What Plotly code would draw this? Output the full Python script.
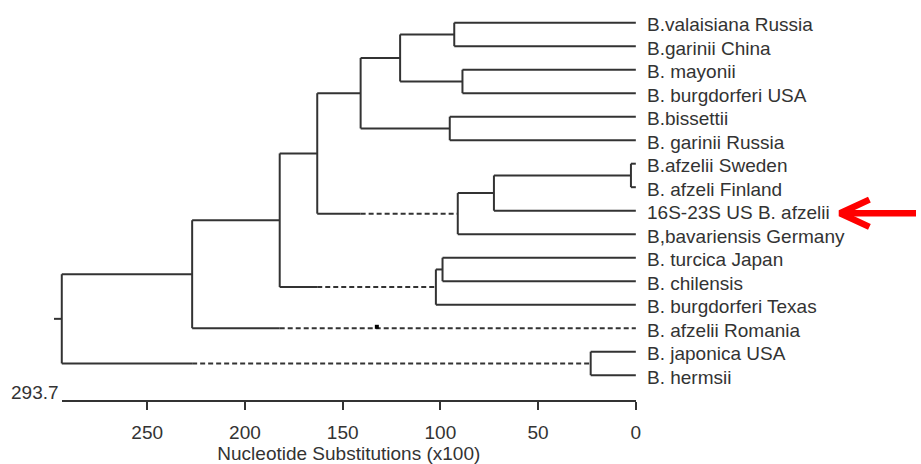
import plotly.graph_objects as go

# ---------------- data ----------------
LEAVES = [
    "B.valaisiana Russia", "B.garinii China", "B. mayonii", "B. burgdorferi USA",
    "B.bissettii", "B. garinii Russia", "B.afzelii Sweden", "B. afzeli Finland",
    "16S-23S US B. afzelii", "B,bavariensis Germany", "B. turcica Japan",
    "B. chilensis", "B. burgdorferi Texas", "B. afzelii Romania",
    "B. japonica USA", "B. hermsii",
]
NODE_NAMES = ["n_a", "n_b", "n_c", "n_d", "n_e", "n_f", "n_g", "n_h",
              "n_i", "n_j", "n_k", "n_l", "n_m", "n_n", "root"]
NODE_CHILDREN = [
    ("B.valaisiana Russia", "B.garinii China"),
    ("B. mayonii", "B. burgdorferi USA"),
    ("n_a", "n_b"),
    ("B.bissettii", "B. garinii Russia"),
    ("n_c", "n_d"),
    ("B.afzelii Sweden", "B. afzeli Finland"),
    ("n_f", "16S-23S US B. afzelii"),
    ("n_g", "B,bavariensis Germany"),
    ("n_e", "n_h"),
    ("B. turcica Japan", "B. chilensis"),
    ("n_j", "B. burgdorferi Texas"),
    ("n_i", "n_k"),
    ("n_l", "B. afzelii Romania"),
    ("B. japonica USA", "B. hermsii"),
    ("n_m", "n_n"),
]
NODE_HEIGHTS = [92.9, 88.7, 120.6, 95.2, 140.8, 2.5, 72.6, 91.1,
                163.0, 98.9, 102.3, 182.2, 227.0, 23.1, 293.7]
# branches drawn dashed from this height down to the child
DASHED_CHILDREN = ["n_h", "n_k", "B. afzelii Romania", "n_n"]
DASHED_FROM = [140.8, 163.0, 182.2, 227.0]
ROOT_STUB_TO = 297.7
MARK_LEAF = "B. afzelii Romania"
MARK_X = 132.5
TICK_VALS = [250, 200, 150, 100, 50, 0]
ARROW_LEAF = "16S-23S US B. afzelii"

# ---------------- layout constants (pixels) ----------------
W, H = 921, 464
AX0_PX = 639.3          # pixel of value 0
PX_PER_UNIT = 1.9652
LEAF0_PX = 22.7
LEAF_STEP_PX = 23.5
AXIS_Y_PX = 400
INK = "#333333"
FONT = "Liberation Sans, Arial, sans-serif"

root_h = NODE_HEIGHTS[-1]

# ---------------- tree geometry from data ----------------
height = {n: h for n, h in zip(NODE_NAMES, NODE_HEIGHTS)}
for leaf in LEAVES:
    height[leaf] = 0.0
ypos = {leaf: float(i) for i, leaf in enumerate(LEAVES)}
for name, ch in zip(NODE_NAMES, NODE_CHILDREN):
    ypos[name] = (ypos[ch[0]] + ypos[ch[1]]) / 2
dash_from = dict(zip(DASHED_CHILDREN, DASHED_FROM))

sx, sy, dx, dy = [], [], [], []
for name, ch in zip(NODE_NAMES, NODE_CHILDREN):
    h = height[name]
    # vertical connector
    sx += [h, h, None]
    sy += [ypos[ch[0]], ypos[ch[1]], None]
    for c in ch:
        if c in dash_from:
            mid = dash_from[c]
            sx += [h, mid, None]
            sy += [ypos[c], ypos[c], None]
            dx += [mid, height[c], None]
            dy += [ypos[c], ypos[c], None]
        else:
            sx += [h, height[c], None]
            sy += [ypos[c], ypos[c], None]
# root stub
sx += [root_h, ROOT_STUB_TO, None]
sy += [ypos["root"], ypos["root"], None]

fig = go.Figure()
# invisible trace so the scale-axis subplot exists
fig.add_trace(go.Scatter(x=[root_h, 0], y=[0, 0], mode="lines",
                         line=dict(width=0), hoverinfo="skip",
                         showlegend=False, xaxis="x", yaxis="y"))
fig.add_trace(go.Scatter(x=sx, y=sy, mode="lines",
                         line=dict(color=INK, width=2),
                         hoverinfo="skip", showlegend=False,
                         xaxis="x2", yaxis="y2"))
fig.add_trace(go.Scatter(x=dx, y=dy, mode="lines",
                         line=dict(color=INK, width=2, dash="5px,3px"),
                         hoverinfo="skip", showlegend=False,
                         xaxis="x2", yaxis="y2"))
fig.add_trace(go.Scatter(x=[MARK_X], y=[ypos[MARK_LEAF] - 0.06], mode="markers",
                         marker=dict(color="black", size=4, symbol="square"),
                         hoverinfo="skip", showlegend=False,
                         xaxis="x2", yaxis="y2"))

# red arrow pointing at the highlighted leaf
ay = ypos[ARROW_LEAF] + 0.11
fig.add_trace(go.Scatter(
    x=[-119.5, -104.5, -119.5, None, -105.0, -150.0],
    y=[ay - 0.58, ay, ay + 0.58, None, ay, ay],
    mode="lines", line=dict(color="#ff0000", width=6.5),
    hoverinfo="skip", showlegend=False, xaxis="x2", yaxis="y2"))

annotations = []
for leaf in LEAVES:
    annotations.append(dict(x=0, y=ypos[leaf], xref="x2", yref="y2",
                            text=leaf, showarrow=False, xanchor="left",
                            yanchor="middle", xshift=9, yshift=-2,
                            font=dict(family=FONT, size=19, color=INK)))
annotations.append(dict(x=root_h, y=(H - 392) / H, xref="x", yref="paper",
                        text=f"{root_h}", showarrow=False, xanchor="right",
                        yanchor="middle", xshift=-1,
                        font=dict(family=FONT, size=19, color=INK)))

x_dom = [(AX0_PX - root_h * PX_PER_UNIT) / W, AX0_PX / W]
fig.update_layout(
    width=W, height=H, autosize=False,
    margin=dict(l=0, r=0, t=0, b=0, pad=0),
    paper_bgcolor="white", plot_bgcolor="rgba(0,0,0,0)",
    font=dict(family=FONT, size=19, color=INK),
    xaxis=dict(domain=x_dom, range=[root_h, 0], showline=True,
               linecolor=INK, linewidth=2, ticks="outside", ticklen=8,
               tickwidth=2, tickcolor=INK, tickvals=TICK_VALS,
               showgrid=False, zeroline=False, ticklabelstandoff=6,
               tickfont=dict(family=FONT, size=19, color=INK),
               title=dict(text="Nucleotide Substitutions (x100)",
                          font=dict(family=FONT, size=19, color=INK),
                          standoff=6),
               anchor="y"),
    yaxis=dict(domain=[(H - AXIS_Y_PX) / H, 1], visible=False, range=[0, 1],
               anchor="x"),
    xaxis2=dict(domain=[0, 1],
                range=[AX0_PX / PX_PER_UNIT, -(W - AX0_PX) / PX_PER_UNIT],
                visible=False, anchor="y2"),
    yaxis2=dict(domain=[0, 1],
                range=[(H - LEAF0_PX) / LEAF_STEP_PX, -LEAF0_PX / LEAF_STEP_PX],
                visible=False, anchor="x2"),
    annotations=annotations,
    hovermode=False,
)

fig.write_html("out.html",
               config={"displayModeBar": False},
               post_script="document.body.style.margin='0';"
                           "document.body.style.overflow='hidden';")
